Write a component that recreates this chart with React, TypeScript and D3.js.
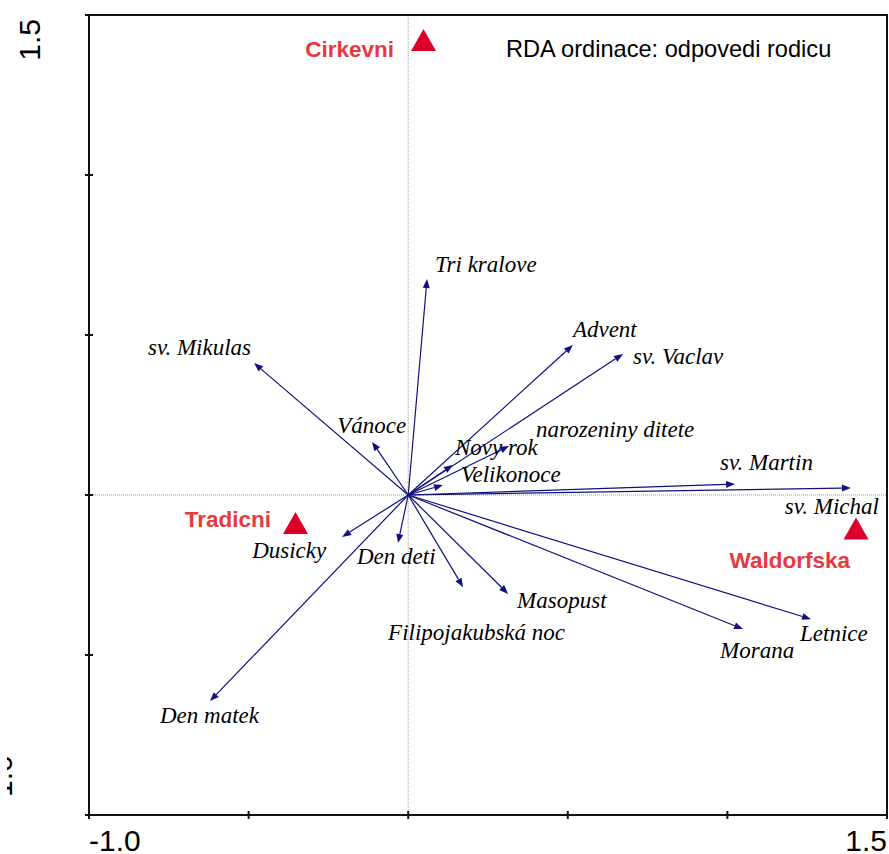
import React from "react";
import * as d3 from "d3";

// ---- data ----
const speciesNames = [
  "Tri kralove", "Advent", "sv. Vaclav", "narozeniny ditete", "Novy rok", "Velikonoce",
  "sv. Martin", "sv. Michal", "Letnice", "Morana", "Masopust", "Filipojakubská noc",
  "Den deti", "Dusicky", "Den matek", "Vánoce", "sv. Mikulas",
];
const speciesX = [0.059, 0.516, 0.673, 0.316, 0.140, 0.109, 1.024, 1.387, 1.262, 1.049, 0.313, 0.172, -0.032, -0.207, -0.621, -0.113, -0.483];
const speciesY = [0.675, 0.469, 0.441, 0.153, 0.094, 0.031, 0.034, 0.022, -0.388, -0.419, -0.309, -0.288, -0.150, -0.131, -0.644, 0.166, 0.4125];

const centroidNames = ["Cirkevni", "Tradicni", "Waldorfska"];
const centroidX = [0.048, -0.353, 1.403];
const centroidY = [1.422, -0.0875, -0.105];

const xTicks = [-1.0, -0.5, 0, 0.5, 1.0, 1.5];
const yTicks = [-1.0, -0.5, 0, 0.5, 1.0, 1.5];
const xTickLabels = ["-1.0", "1.5"];
const yTickLabels = ["-1.0", "1.5"];
const title = "RDA ordinace: odpovedi rodicu";

// ---- layout (label placement in px, relative to arrow tip) ----
const speciesLabelOffsets: [number, number, string][] = [
  [8, -7, "start"], [0, -8, "start"], [10, 10, "start"], [27, -9, "start"], [2, -10, "start"], [18, -3, "start"],
  [-15, -14, "start"], [28, 26, "end"], [-11, 22, "start"], [-23, 29, "start"], [9, 14, "start"], [-75, 53, "start"],
  [-41, 21, "start"], [-90, 21, "start"], [-50, 22, "start"], [-35, -9, "start"], [-3, -8, "end"],
];
const centroidLabelOffsets: [number, number][] = [[-29.5, 17], [-24.5, 4], [-6, 39.5]];

const W = 889, H = 854;
const x = d3.scaleLinear().domain([-1, 1.5]).range([89, 887]);
const y = d3.scaleLinear().domain([-1, 1.5]).range([815, 15]);

const ARROW = "#10107f";
const RED_LABEL = "#e8383f";
const RED_MARK = "#dc0029";

export default function App() {
  const x0 = x(0), y0 = y(0);
  const sans = "'Liberation Sans', Arial, sans-serif";
  const serif = "'Liberation Serif', 'Times New Roman', serif";
  return (
    <>
      <style>{"body{margin:0}"}</style>
      <svg width={W} height={H} style={{ display: "block", background: "#fff" }}>
        <defs>
          <clipPath id="ylabclip">
            <rect x={7} y={0} width={60} height={H} />
          </clipPath>
        </defs>
        {/* zero lines */}
        <line x1={x0} x2={x0} y1={y(1.5)} y2={y(-1)} stroke="#9a9a9a" strokeWidth={1} strokeDasharray="1,1" />
        <line x1={x(-1)} x2={x(1.5)} y1={y0} y2={y0} stroke="#9a9a9a" strokeWidth={1} strokeDasharray="1,1" />

        {/* frame */}
        <rect x={x(-1)} y={y(1.5)} width={x(1.5) - x(-1)} height={y(-1) - y(1.5)} fill="none" stroke="#111" strokeWidth={2} />
        {yTicks.map((t) => (
          <line key={"yt" + t} x1={x(-1) - 4} x2={x(-1) + 4} y1={y(t)} y2={y(t)} stroke="#111" strokeWidth={2} />
        ))}
        {xTicks.map((t) => (
          <line key={"xt" + t} x1={x(t)} x2={x(t)} y1={y(-1) - 4} y2={y(-1) + 4} stroke="#111" strokeWidth={2} />
        ))}

        {/* tick labels */}
        <text x={x(-1)} y={851} fontFamily={sans} fontSize={30} textAnchor="start" fill="#000">{xTickLabels[0]}</text>
        <text x={x(1.5)} y={851} fontFamily={sans} fontSize={30} textAnchor="end" fill="#000">{xTickLabels[1]}</text>
        <g clipPath="url(#ylabclip)">
          <text transform={`translate(12,${y(-1) - 8}) rotate(-90)`} fontFamily={sans} fontSize={30} textAnchor="start" fill="#000">{yTickLabels[0]}</text>
        </g>
        <text transform={`translate(40,${y(1.5) + 4}) rotate(-90)`} fontFamily={sans} fontSize={30} textAnchor="end" fill="#000">{yTickLabels[1]}</text>

        {/* title */}
        <text x={506} y={57} fontFamily={sans} fontSize={23.6} fill="#000">{title}</text>

        {/* species arrows */}
        {speciesNames.map((name, i) => {
          const tx = x(speciesX[i]), ty = y(speciesY[i]);
          const ang = Math.atan2(ty - y0, tx - x0);
          const L = 9, hw = 3.5;
          const bx = tx - L * Math.cos(ang), by = ty - L * Math.sin(ang);
          const px = -Math.sin(ang), py = Math.cos(ang);
          const head = `M${tx},${ty}L${bx + hw * px},${by + hw * py}L${bx - hw * px},${by - hw * py}Z`;
          const [dx, dy, anchor] = speciesLabelOffsets[i];
          return (
            <g key={name}>
              <line x1={x0} y1={y0} x2={bx} y2={by} stroke={ARROW} strokeWidth={1.2} />
              <path d={head} fill={ARROW} />
              <text x={tx + dx} y={ty + dy} fontFamily={serif} fontStyle="italic" fontSize={23}
                textAnchor={anchor as any} fill="#000">{name}</text>
            </g>
          );
        })}

        {/* centroids */}
        {centroidNames.map((name, i) => {
          const cx = x(centroidX[i]), cy = y(centroidY[i]);
          const tri = d3.path();
          tri.moveTo(cx, cy - 11);
          tri.lineTo(cx + 12.5, cy + 11);
          tri.lineTo(cx - 12.5, cy + 11);
          tri.closePath();
          const [dx, dy] = centroidLabelOffsets[i];
          return (
            <g key={name}>
              <path d={tri.toString()} fill={RED_MARK} />
              <text x={cx + dx} y={cy + dy} fontFamily={sans} fontWeight="bold" fontSize={22.5}
                textAnchor="end" fill={RED_LABEL}>{name}</text>
            </g>
          );
        })}
      </svg>
    </>
  );
}
